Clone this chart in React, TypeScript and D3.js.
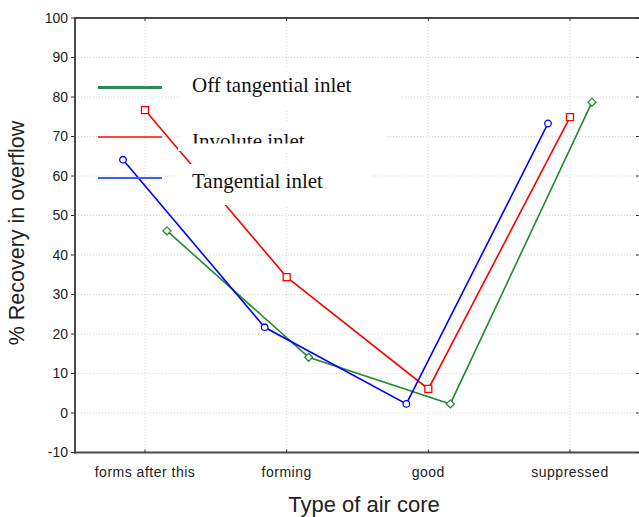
import React, { useEffect, useRef } from 'react';
import * as d3 from 'd3';

const categories = ['forms after this', 'forming', 'good', 'suppressed'];
const offTangential = [46.1, 14.1, 2.3, 78.7];
const involute = [76.7, 34.4, 6.1, 74.9];
const tangential = [64.1, 21.7, 2.3, 73.3];
const yTicks = [-10, 0, 10, 20, 30, 40, 50, 60, 70, 80, 90, 100];

const W = 639;
const H = 517;

const App = () => {
  const svgRef = useRef<SVGSVGElement>(null);

  useEffect(() => {
    const svg = d3.select(svgRef.current);
    svg.selectAll('*').remove();

    const left = 75, right = 640, top = 18, bottom = 452.5;

    const x = d3.scalePoint<string>().domain(categories).range([145, 570]);
    const y = d3.scaleLinear().domain([-10, 100]).range([bottom, top]);

    const series = [
      { name: 'Off tangential inlet', values: offTangential, color: '#1f8a2e', legendColor: '#2e8b57', legendWidth: 3, shift: 22, marker: 'diamond' },
      { name: 'Involute inlet', values: involute, color: '#ff0000', legendColor: '#ff4545', legendWidth: 2, shift: 0, marker: 'square' },
      { name: 'Tangential inlet', values: tangential, color: '#0000ff', legendColor: '#3a5cff', legendWidth: 2, shift: -22, marker: 'circle' },
    ];

    // grid
    const grid = svg.append('g').attr('stroke', '#d8d8d8').attr('stroke-dasharray', '1,2').attr('stroke-width', 1);
    grid.selectAll('line.h')
      .data(yTicks.filter(d => d > -10 && d < 100))
      .join('line')
      .attr('x1', left).attr('x2', right)
      .attr('y1', d => y(d)).attr('y2', d => y(d));
    grid.selectAll('line.v')
      .data(categories)
      .join('line')
      .attr('x1', d => x(d)!).attr('x2', d => x(d)!)
      .attr('y1', top).attr('y2', bottom);

    // lines + markers
    const line = d3.line<number>()
      .x((d, i) => x(categories[i])!)
      .y(d => y(d));

    series.forEach(s => {
      const g = svg.append('g').attr('transform', `translate(${s.shift},0)`);
      g.append('path')
        .attr('d', line(s.values))
        .attr('fill', 'none')
        .attr('stroke', s.color)
        .attr('stroke-width', 1.6);
      const pts = g.selectAll('.pt')
        .data(s.values)
        .join('path')
        .attr('transform', (d, i) => `translate(${x(categories[i])},${y(d)})`)
        .attr('fill', '#fff')
        .attr('stroke', s.color)
        .attr('stroke-width', 1.3);
      if (s.marker === 'circle') pts.attr('d', 'M3.3,0A3.3,3.3,0,1,1,-3.3,0A3.3,3.3,0,1,1,3.3,0Z');
      if (s.marker === 'square') pts.attr('d', 'M-3.5,-3.5H3.5V3.5H-3.5Z');
      if (s.marker === 'diamond') pts.attr('d', 'M0,-4L4,0L0,4L-4,0Z');
    });

    // legend boxes (white backgrounds that hide what is under the text)
    const boxes = [
      { y0: 67, y1: 110, x1: 400 },
      { y0: 123, y1: 151, x1: 385 },
      { y0: 164, y1: 205, x1: 370 },
    ];
    const baselines = [92, 148, 188];
    const lineYs = [87.5, 137, 178];

    const defs = svg.append('defs');
    defs.append('clipPath').attr('id', 'invClip')
      .append('rect').attr('x', 178).attr('y', 120).attr('width', 220).attr('height', 23.5);

    series.forEach((s, i) => {
      svg.append('line')
        .attr('x1', 98).attr('x2', 162)
        .attr('y1', lineYs[i]).attr('y2', lineYs[i])
        .attr('stroke', s.legendColor)
        .attr('stroke-width', s.legendWidth);
      svg.append('rect')
        .attr('x', 178).attr('y', boxes[i].y0)
        .attr('width', boxes[i].x1 - 178).attr('height', boxes[i].y1 - boxes[i].y0)
        .attr('fill', '#fff');
      svg.append('text')
        .attr('x', 192).attr('y', baselines[i])
        .attr('font-family', '"Liberation Serif", "Times New Roman", serif')
        .attr('font-size', 21)
        .attr('fill', '#111')
        .attr('clip-path', i === 1 ? 'url(#invClip)' : null)
        .text(s.name);
    });

    // frame
    const frame = svg.append('g').attr('stroke', '#4a4a4a').attr('stroke-width', 2).attr('fill', 'none');
    frame.append('line').attr('x1', left).attr('x2', left).attr('y1', top).attr('y2', bottom + 1);
    frame.append('line').attr('x1', left - 1).attr('x2', right).attr('y1', bottom).attr('y2', bottom);
    frame.append('line').attr('x1', left - 1).attr('x2', right).attr('y1', top).attr('y2', top);
    frame.append('line').attr('x1', right).attr('x2', right).attr('y1', top).attr('y2', bottom);

    // ticks
    const ticks = svg.append('g').attr('stroke', '#333').attr('stroke-width', 1);
    ticks.selectAll('line.yl').data(yTicks).join('line')
      .attr('x1', left - 4).attr('x2', left)
      .attr('y1', d => y(d)).attr('y2', d => y(d));
    ticks.append('g').selectAll('line').data(yTicks).join('line')
      .attr('x1', right - 4).attr('x2', right)
      .attr('y1', d => y(d)).attr('y2', d => y(d));
    ticks.append('g').selectAll('line').data(categories).join('line')
      .attr('x1', d => x(d)!).attr('x2', d => x(d)!)
      .attr('y1', bottom - 3).attr('y2', bottom);
    ticks.append('g').selectAll('line').data(categories).join('line')
      .attr('x1', d => x(d)!).attr('x2', d => x(d)!)
      .attr('y1', top).attr('y2', top + 3);

    const sans = '"Liberation Sans", Arial, sans-serif';

    svg.append('g').selectAll('text').data(yTicks).join('text')
      .attr('x', 68).attr('y', d => y(d))
      .attr('dy', '0.35em')
      .attr('text-anchor', 'end')
      .attr('font-family', sans).attr('font-size', 14).attr('fill', '#222')
      .text(d => d);

    svg.append('g').selectAll('text').data(categories).join('text')
      .attr('x', d => x(d)!).attr('y', 477)
      .attr('text-anchor', 'middle')
      .attr('font-family', sans).attr('font-size', 14).attr('fill', '#222')
      .attr('letter-spacing', 0.5)
      .text(d => d);

    svg.append('text')
      .attr('x', 364).attr('y', 512)
      .attr('text-anchor', 'middle')
      .attr('font-family', sans).attr('font-size', 22).attr('fill', '#222')
      .text('Type of air core');

    svg.append('text')
      .attr('transform', `translate(24,233) rotate(-90)`)
      .attr('text-anchor', 'middle')
      .attr('font-family', sans).attr('font-size', 21.5).attr('fill', '#222')
      .text('% Recovery in overflow');
  }, []);

  return (
    <svg
      ref={svgRef}
      width={W}
      height={H}
      style={{ position: 'absolute', left: 0, top: 0, background: '#fff' }}
    />
  );
};

export default App;
